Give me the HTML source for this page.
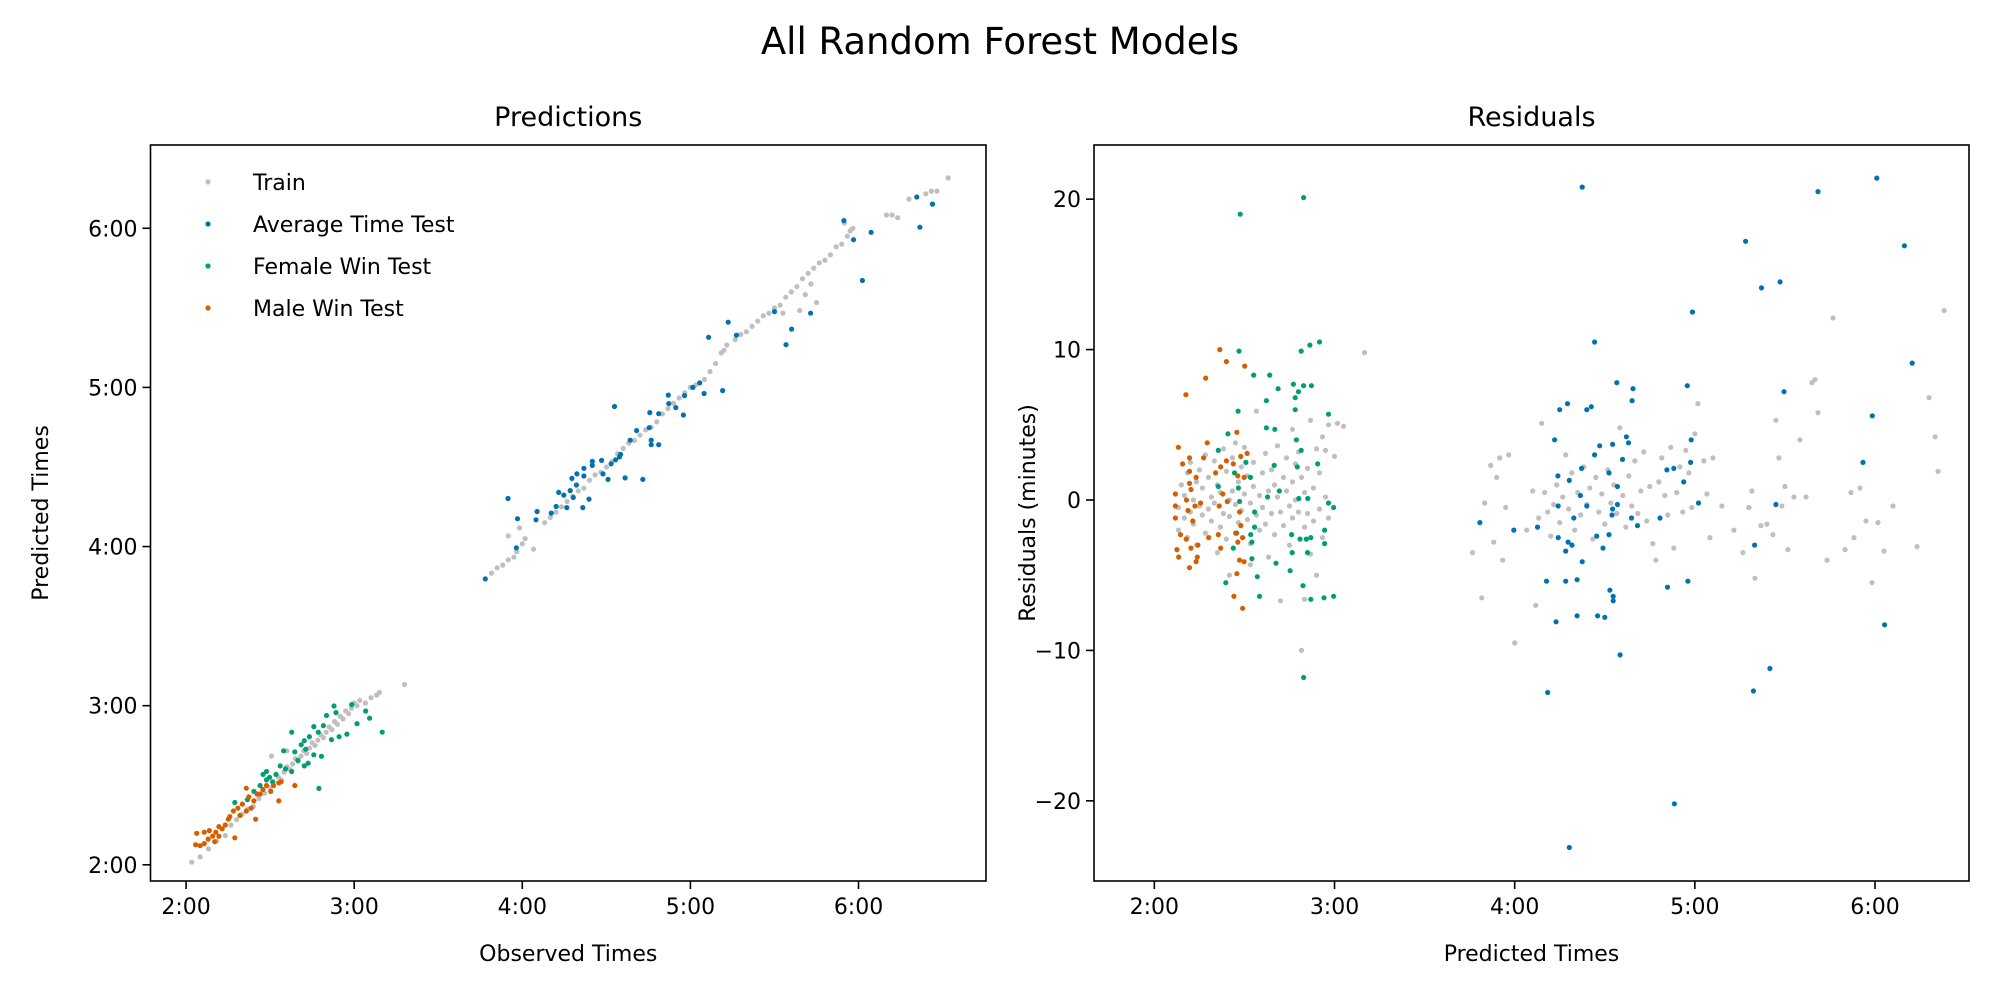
<!DOCTYPE html>
<html><head><meta charset="utf-8"><style>
html,body{margin:0;padding:0;background:#fff;}
svg{display:block;font-family:"DejaVu Sans","Liberation Sans",sans-serif;}
</style></head><body>
<svg id="fig" width="2000" height="1000" viewBox="0 0 2000 1000" xmlns="http://www.w3.org/2000/svg">
<rect width="2000" height="1000" fill="#fff"/>
<text x="1000" y="54" font-size="37" text-anchor="middle">All Random Forest Models</text>
</svg>
<script>
// ---- data (minutes) ----
const timeTicks = [120,180,240,300,360];
const timeTickLabels = ["2:00","3:00","4:00","5:00","6:00"];
const residTicks = [-20,-10,0,10,20];
const residTickLabels = ["\u221220","\u221210","0","10","20"];
const seriesNames = ["Train","Average Time Test","Female Win Test","Male Win Test"];
const seriesColors = ["#bfbfbf","#0072b2","#009e73","#d55e00"];

const predTrain = [[122,121],[125,123],[128,126],[131,129],[134,131],[136,135],[138,137],[140,139],[142,141],[144,142],[146,145],[148,147],[150,149],[151,151],[153,153],[154,152],[155,155],[156,157],[157,156],[158,158],[159,160],[160,159],[161,161],[162,163],[163,162],[164,164],[165,166],[166,165],[167,167],[168,169],[169,168],[170,170],[171,172],[172,171],[173,174],[174,173],[175,176],[176,175],[177,178],[178,177],[179,179],[180,181],[181,180],[182,182],[184,181],[186,183],[188,184],[189,185],[198,188],[150.5,161],[156,163],
[229,230],[231,232],[233,233],[235,235],[237,236],[238,238],[240,241],[241,243],[239,247],[235,244],[244,239],[248,249],[250,251],[252,253],[254,255],[256,257],[258,259],[260,261],[262,262],[264,265],[266,267],[268,268],[270,270],[272,272],[274,275],[276,277],[278,279],[280,280],[282,282],[284,284],[286,285],[288,287],[290,290],[292,292],[294,294],[296,296],[298,298],[300,300],[302,301],[305,303],[307,306],[309,309],[311,313],[312,314],[313,316],[316,318],[318,320],[320,321],[322,323],[324,325],[326,327],[328,328],[330,330],[332,331],[334,334],[336,336],[338,338],[340,341],[342,343],[344,345],[346,347],[348,348],[350,350],[352,353],[354,354],[356,357],[358,360],[355,362],[357,359],[370,365],[372,365],[374,364],[378,371],[384,373],[386,374],[388,374],[392,379],[343,339],[341,335],[345,332],[333,328],[339,329]];
const predAvg = [[380.8,371.8],[386.4,369.1],[381.9,360.4],[354.8,362.9],[358.2,355.7],[364.5,358.5],[361.4,340.3],[313.5,324.6],[306.5,318.9],[316.4,319.7],[330,328.6],[334.1,316.1],[336.1,322],[342.9,328],[311.5,298.8],[304.9,297.7],[300.9,300],[297.9,296.9],[303.3,301.7],[292.3,293.9],[294.8,292.4],[297.5,289.6],[285.5,290.5],[288.7,290.1],[292.1,297.1],[272.9,292.8],[285.3,284.8],[288.7,278.4],[286,278.4],[280.8,283.7],[278.5,280.1],[275.1,274.8],[274.7,273.8],[273.3,272.7],[271.7,271.2],[268.3,272.5],[265,270.6],[276.7,265.9],[270.6,265.3],[268.8,267.4],[265,272.1],[262,266.6],[259.3,263.2],[257.1,261.1],[254.8,259.4],[253,260.4],[252.1,255.1],[255.9,254.7],[258.2,258.5],[261.6,254.7],[263.8,257.9],[257.7,265.7],[259.5,267.4],[262,269.5],[250.3,252.6],[245.3,253.2],[244.9,250.1],[238.3,250.5],[234.9,258.1],[237.9,239.5],[226.8,227.8],[283,265.3],[286,280.1]];
const predFemale = [[172.8,179.9],[179.1,180.4],[184.1,178],[185.5,175.3],[190,170],[181,173.2],[177.4,169.3],[174.6,168.3],[171.9,167.2],[170.1,176.3],[169,172.5],[167.2,170],[165.6,172.1],[164,168.3],[162.2,166.8],[157.7,170],[161.1,165.3],[162.7,163.6],[165.6,161.5],[168.3,160.9],[163.6,158.3],[162.2,157.3],[159.9,159.4],[158.8,162.6],[157.7,155.2],[155.5,156.2],[153.6,157.3],[152.1,154.1],[149.8,153],[147.5,154.1],[148.7,152],[146.4,149.9],[144.2,147.7],[141.9,144.6],[137.4,143.5],[167.4,148.8],[154.8,163],[173.5,177.4],[148.7,155.2],[150.9,151.3]];
const predMale = [[123.4,127.6],[125,127.2],[126.5,128],[127.9,129.7],[129.5,130.8],[128.3,132.9],[130.6,132.3],[131.7,134.4],[132.9,133.6],[130.2,128.7],[134,135],[135.6,138.2],[137.4,130.2],[136.9,140.3],[138.5,141.4],[140.1,142.9],[141.5,140.3],[142.4,145.6],[144.2,144.1],[145.3,146.7],[144.8,137.2],[147.4,148.4],[148.7,149.9],[150.2,147.7],[151.2,149.9],[153.1,150.9],[153.9,151.3],[153.1,144.1],[158.8,149.9],[141.5,148.9],[146.4,146.7],[126.5,132.3],[123.8,131.9],[131.7,130.8],[135.1,137.2],[139.2,138.6],[143.2,141.4]];

const resTrain = [[128,-0.5],[128,-2],[129,1],[130,-1.2],[130,0.3],[131,-2.5],[131,1.8],[132,-0.8],[132,2.5],[133,0],[133,-1.6],[134,1.2],[134,-3],[135,-0.4],[135,2],[136,-1],[136,0.8],[137,-2.2],[137,3],[138,-0.6],[138,1.5],[139,0.2],[139,-1.4],[140,2.6],[140,-0.2],[141,-3.5],[141,1],[142,0.5],[142,-1.8],[143,3.4],[143,-0.9],[144,1.9],[144,-2.6],[145,0],[145,-1.1],[146,2.8],[146,0.6],[147,-0.3],[147,3.8],[148,-1.5],[148,1.2],[149,2.2],[149,-0.7],[150,0.4],[150,3.5],[151,-1.3],[151,1.6],[152,-0.2],[152,-2.9],[153,2.5],[153,0.9],[154,-1],[154,5.9],[155,0.3],[155,-2],[156,1.8],[156,-0.5],[157,3.1],[157,-1.6],[158,0.6],[158,-3.8],[159,-0.9],[159,2],[160,1],[160,-2.3],[161,0.2],[161,3.6],[162,-0.8],[162,-6.7],[163,1.5],[163,-1.7],[164,0.6],[164,2.8],[165,-0.4],[165,-3],[166,1.2],[166,-1.2],[167,2.4],[167,0],[168,-0.8],[168,3.2],[169,-10],[169,1.5],[170,-1.8],[170,0.5],[171,2.1],[171,-0.9],[172,-3.6],[172,5.3],[173,0.8],[173,-1.4],[174,3.4],[174,-5],[175,1.8],[175,-0.6],[176,4.2],[176,-2.5],[177,3.3],[177,0.2],[178,5],[178,-1.2],[180,2.9],[181,5.1],[183,4.9],[190,9.8],[170,-6.6],[166,4.7],[145,-5],[152,-4.3],
[226,-3.5],[229,-6.5],[230,-0.2],[232,2.3],[233,-2.8],[234,1.5],[235,2.8],[236,-4],[237,-0.5],[238,3],[240,-9.5],[244,-2],[246,0.6],[247,-7],[248,-1.2],[249,5.1],[250,0.5],[251,-0.8],[252,-2.4],[253,-0.3],[254,1],[255,-1.5],[256,0.2],[257,3],[258,-0.6],[259,1.8],[260,-2],[261,0.5],[262,-1],[263,2.2],[264,-0.3],[265,0.8],[266,-2.6],[267,1.5],[268,-0.8],[269,0.4],[270,-1.6],[271,2],[272,-0.2],[273,1],[274,-0.9],[275,4.8],[276,0.3],[277,-1.8],[278,1.6],[279,-0.4],[280,2.6],[281,-0.9],[282,0.6],[283,3.2],[284,-1.4],[285,0.9],[286,-2.9],[287,-4],[288,1.2],[289,2.8],[290,0.3],[291,-1],[292,3.5],[293,-3.2],[294,0.5],[295,2.2],[296,-0.8],[297,3.3],[298,1.8],[299,-0.5],[300,4.4],[301,6.4],[303,2.6],[304,0.4],[305,-2.5],[306,2.8],[309,-0.4],[313,-2],[316,-3.5],[318,-0.5],[319,0.6],[320,-5.2],[322,-1.7],[324,-1.6],[326,-2.3],[327,5.3],[328,2.8],[329,-0.4],[330,0.9],[331,-3.3],[333,0.2],[335,4],[337,0.2],[339,7.8],[340,8],[341,5.8],[344,-4],[346,12.1],[350,-3.3],[352,0.5],[353,-2.5],[355,0.8],[357,-1.4],[359,-5.5],[361,-1.5],[363,-3.4],[366,-0.4],[374,-3.1],[378,6.8],[380,4.2],[381,1.9],[383,12.6]];
const resAvg = [[262.5,20.8],[360.6,21.4],[341,20.5],[369.8,16.9],[316.9,17.2],[322.2,14.1],[328.4,14.5],[299.2,12.5],[372.4,9.1],[266.6,10.5],[297.5,7.6],[329.7,7.2],[274,7.8],[279.4,7.4],[279.1,6.6],[359.1,5.6],[257.6,6.4],[255,6],[264,6],[265.5,6.2],[253.3,4],[356,2.5],[277.2,4.2],[277.9,3.8],[268.3,3.6],[272.6,3.7],[266.6,3],[275.9,2.7],[298.8,4],[290.7,2],[293,2.1],[298.6,2.5],[262.3,2.1],[254.4,1.6],[258.2,1.3],[271.4,1.8],[274.2,0.9],[261.9,0.3],[264,-0.4],[254.5,-0.4],[272.6,-0.6],[274.2,-0.3],[296.3,1.2],[301.2,-0.2],[327,-0.3],[278.9,-1.2],[288.4,-1.2],[280.9,-1.7],[272.4,-1],[259.7,-1.2],[247.6,-1.8],[228.4,-1.5],[239.7,-2],[254.5,-2.5],[271.4,-2.3],[267.3,-2.4],[257.8,-2.8],[259.1,-3],[257,-3.4],[269.4,-3.2],[319.9,-3],[262.5,-4.1],[260.8,-5.3],[250.6,-5.4],[257,-5.4],[290.9,-5.8],[297.7,-5.4],[271.7,-6],[272.8,-6.4],[272.8,-6.7],[260.8,-7.7],[267.6,-7.7],[270,-7.8],[253.8,-8.1],[363.2,-8.3],[275.1,-10.3],[251,-12.8],[319.5,-12.7],[325,-11.2],[293.2,-20.2],[258.2,-23.1]];
const resFemale = [[148.6,19],[169.7,20.1],[175,10.5],[171.8,10.3],[168.9,9.9],[148.2,9.9],[153.1,8.3],[158.4,8.3],[161.2,7.4],[166.3,7.7],[169.7,7.6],[172.3,7.6],[168,7.2],[166.9,6.8],[157.3,6.6],[166.9,6],[178,5.7],[147.9,5.9],[157.3,4.8],[160.1,4.7],[144.5,4.4],[167.3,4],[141.3,3.3],[168.9,3.3],[174.4,2.4],[159.9,2.3],[167.6,2.2],[150.5,2.5],[146.7,1.8],[152,1.5],[141.3,0.9],[161.6,0.6],[148,0.8],[157.7,0.2],[168.1,0.1],[171.1,0.1],[148.4,-0.1],[178,-0.2],[179.7,-0.5],[153.4,-0.8],[153.4,-1.8],[147.4,-2.2],[152.1,-2.3],[165.7,-2.3],[168.5,-2.6],[170.6,-2.6],[172.1,-2.5],[176.7,-2],[176.7,-2.9],[152.5,-2.8],[146.3,-3.2],[165.9,-3.5],[171,-3.5],[152.5,-3.9],[160.5,-4.2],[165.2,-4.7],[154.3,-5.1],[143.8,-5.5],[169.5,-5.7],[155,-6.4],[172.1,-6.6],[176.5,-6.5],[179.7,-6.4],[169.7,-11.8]];
const resMale = [[141.8,10],[144,9.2],[150.1,8.9],[137.1,8.1],[130.5,7],[147.5,4.5],[137.6,3.8],[128,3.5],[150.9,3.1],[148.8,2.9],[131.7,2.8],[136.4,2.8],[129.4,2.4],[144,2.6],[142.1,2.2],[146.3,2.4],[140.4,1.8],[131.7,1.9],[133.9,1.5],[147.8,1.6],[149.9,1.5],[131.7,1.1],[127,0.4],[132.2,0.7],[142.8,0.4],[130.7,0],[133.5,-0.4],[127,-0.4],[141.6,-0.4],[144.3,-0.1],[135.4,-0.2],[131.2,-0.7],[132.8,-1.4],[127,-1.2],[148.4,-0.8],[148.8,-1.7],[147.1,-2.2],[141.3,-2.3],[138.1,-2.5],[130.6,-2.6],[128.7,-2.3],[149.4,-2.5],[147.8,-2.8],[134.5,-3],[127.5,-3.3],[132.2,-3.2],[142.1,-3.2],[128.1,-3.8],[134.3,-3.8],[133.9,-4.1],[131.7,-4.5],[148.4,-4],[149.9,-4.1],[147.5,-4.9],[146.5,-6.4],[149.4,-7.2]];

// ---- drawing ----
const NS="http://www.w3.org/2000/svg";
const svg=document.getElementById('fig');
function el(tag,attrs,parent){const e=document.createElementNS(NS,tag);for(const k in attrs)e.setAttribute(k,attrs[k]);(parent||svg).appendChild(e);return e;}
function linScale(d0,d1,r0,r1){return v=>r0+(v-d0)/(d1-d0)*(r1-r0);}

function panel(cfg){
  const g=el('g',{});
  
  
  const sx=linScale(cfg.xd[0],cfg.xd[1],cfg.L,cfg.R);
  const sy=linScale(cfg.yd[0],cfg.yd[1],cfg.B,cfg.T);
  // points
  cfg.series.forEach((pts,si)=>{
    const sg=el('g',{fill:seriesColors[si]},g);
    
    
    pts.forEach(p=>{
      const c=el('circle',{cx:sx(p[0]).toFixed(1),cy:sy(p[1]).toFixed(1),r:2.6},sg);
      
      
    });
  });
  // frame
  const fr=el('rect',{x:cfg.L,y:cfg.T,width:cfg.R-cfg.L,height:cfg.B-cfg.T,fill:'none',stroke:'#000','stroke-width':1.6},g);
  
  
  // x ticks
  cfg.xt.forEach((v,i)=>{
    const x=sx(v);
    el('line',{x1:x,x2:x,y1:cfg.B,y2:cfg.B+8,stroke:'#000','stroke-width':1.6},g);
    const t=el('text',{x:x,y:cfg.B+33,'font-size':22,'text-anchor':'middle'},g);
    t.textContent=cfg.xl[i];
    
    
  });
  cfg.yt.forEach((v,i)=>{
    const y=sy(v);
    el('line',{x1:cfg.L-8,x2:cfg.L,y1:y,y2:y,stroke:'#000','stroke-width':1.6},g);
    const t=el('text',{x:cfg.L-13,y:y+8,'font-size':22,'text-anchor':'end'},g);
    t.textContent=cfg.yl[i];
    
    
  });
  const tt=el('text',{x:(cfg.L+cfg.R)/2,y:126,'font-size':27,'text-anchor':'middle'},g);
  tt.textContent=cfg.title;
  
  
  const xa=el('text',{x:(cfg.L+cfg.R)/2,y:961,'font-size':22,'text-anchor':'middle'},g);
  xa.textContent=cfg.xlabel;
  
  
  const yx=cfg.ylx, yc=(cfg.T+cfg.B)/2;
  const ya=el('text',{x:yx,y:yc,'font-size':22,'text-anchor':'middle',transform:`rotate(-90 ${yx} ${yc})`},g);
  ya.textContent=cfg.ylabel;
  
  
  return g;
}

panel({name:'predictions-panel',prefix:'pred',L:150.5,R:986,T:145,B:881,xd:[107.3,405.5],yd:[113.9,391.4],
  xt:timeTicks,xl:timeTickLabels,yt:timeTicks,yl:timeTickLabels,title:'Predictions',xlabel:'Observed Times',ylabel:'Predicted Times',ylx:48,
  series:[predTrain,predAvg,predFemale,predMale]});
panel({name:'residuals-panel',prefix:'resid',L:1094,R:1969,T:145,B:881,xd:[99.9,391.3],yd:[-25.33,23.6],
  xt:timeTicks,xl:timeTickLabels,yt:residTicks,yl:residTickLabels,title:'Residuals',xlabel:'Predicted Times',ylabel:'Residuals (minutes)',ylx:1035,
  series:[resTrain,resAvg,resFemale,resMale]});

// legend
const lg=el('g',{});


seriesNames.forEach((n,i)=>{
  const y=182+i*42;
  const e=el('g',{},lg);
  
  
  el('circle',{cx:208,cy:y,r:2.6,fill:seriesColors[i]},e);
  const t=el('text',{x:253,y:y+8,'font-size':22},e);
  t.textContent=n;
});
</script>
</body></html>
